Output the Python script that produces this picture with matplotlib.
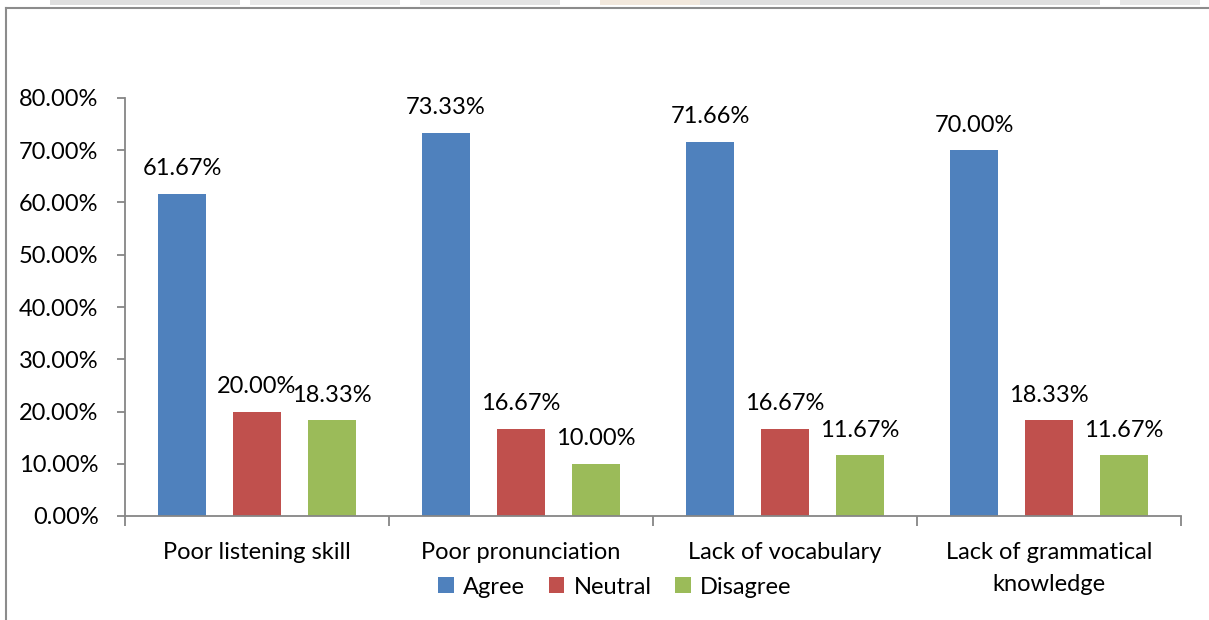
import matplotlib
matplotlib.use("Agg")
import matplotlib.pyplot as plt
from matplotlib.patches import Rectangle
from matplotlib.lines import Line2D
import numpy as np

categories = ["Poor listening skill", "Poor pronunciation", "Lack of vocabulary",
              "Lack of grammatical\nknowledge"]
series_names = ["Agree", "Neutral", "Disagree"]
agree = [61.67, 73.33, 71.66, 70.00]
neutral = [20.00, 16.67, 16.67, 18.33]
disagree = [18.33, 10.00, 11.67, 11.67]
yticks = [0, 10, 20, 30, 40, 50, 60, 70, 80]
colors = ["#4F81BD", "#C0504D", "#9BBB59"]

plt.rcParams['font.family'] = ['Lato', 'DejaVu Sans']
FS = 17
W, H = 1209, 620
fig = plt.figure(figsize=(W / 100, H / 100), dpi=100)

def fx(px):
    return px / W

def fy(py):
    return 1 - py / H

# outer chart border
fig.add_artist(Line2D([fx(6), fx(6)], [fy(8), 0], color="#8c8c8c", lw=1.5))
fig.add_artist(Line2D([fx(6), 1.0], [fy(8), fy(8)], color="#8c8c8c", lw=1.5))
# faint watermark band at top
for x0, x1, c in [(50, 240, "#dedede"), (250, 400, "#e8e8e8"), (420, 560, "#e3e3e3"),
                  (600, 700, "#f2e8dc"), (700, 1100, "#dedede"), (1120, 1200, "#e6e6e6")]:
    fig.add_artist(Rectangle((fx(x0), fy(5)), fx(x1 - x0), fy(0) - fy(5),
                             color=c, lw=0))

ax = fig.add_axes([fx(125), fy(516), fx(1181 - 125), fy(98) - fy(516)])
x = np.arange(len(categories))
off = 0.284
bw = 0.182
for i, (vals, name) in enumerate(zip([agree, neutral, disagree], series_names)):
    xs = x + (i - 1) * off
    ax.bar(xs, vals, width=bw, color=colors[i], label=name, zorder=2)
    for xi, v in zip(xs, vals):
        ax.annotate(f"{v:.2f}%", (xi, v), xytext=(0, 25), textcoords="offset pixels",
                    ha="center", va="center", fontsize=FS, color="black")

ax.set_xlim(-0.5, len(categories) - 0.5)
ax.set_ylim(0, 80)
ax.set_yticks(yticks)
ax.set_yticklabels([f"{t:.2f}%" for t in yticks], fontsize=FS)
ax.set_xticks(np.arange(-0.5, len(categories)), minor=False)
ax.set_xticklabels([])
ax.set_xticks(x, minor=True)
ax.set_xticklabels(categories, minor=True, fontsize=FS, linespacing=1.65)
ax.tick_params(axis='x', which='major', length=7, width=1.3, color="#868686", direction='out')
ax.tick_params(axis='x', which='minor', length=0, pad=19)
ax.tick_params(axis='y', length=6, width=1.3, color="#868686", direction='out', pad=13)
for s in ["top", "right"]:
    ax.spines[s].set_visible(False)
for s in ["left", "bottom"]:
    ax.spines[s].set_color("#868686")
    ax.spines[s].set_linewidth(1.3)

leg = fig.legend(loc="center", bbox_to_anchor=(fx(615), fy(587)), ncol=3, frameon=False,
                 fontsize=FS, handlelength=0.65, handleheight=0.65, handletextpad=0.4,
                 columnspacing=1.0)

fig.savefig("out.png", dpi=100)
